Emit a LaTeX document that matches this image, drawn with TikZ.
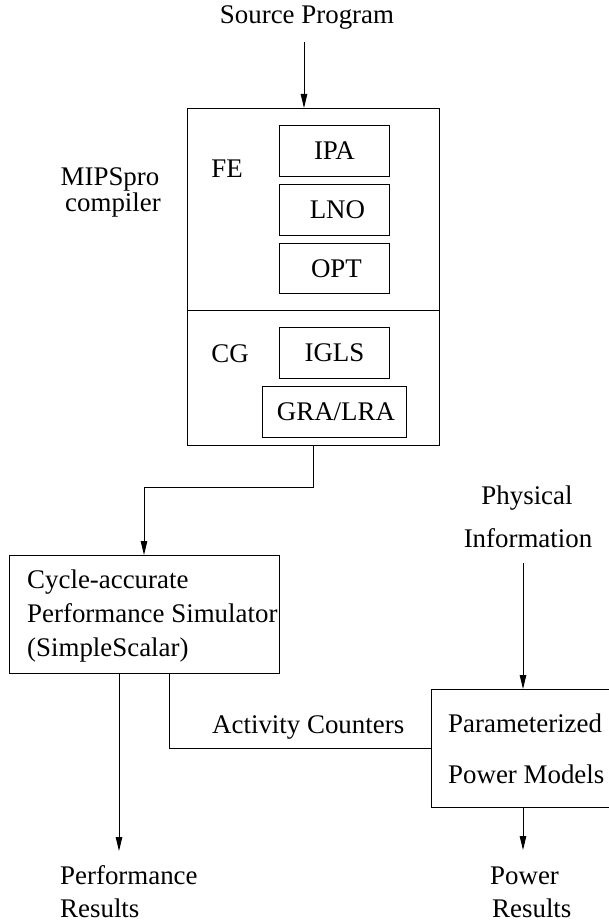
\documentclass[tikz,border=0pt]{standalone}
\usepackage{fontspec}
\setmainfont{Liberation Serif}
\usetikzlibrary{arrows.meta}
\begin{document}
\begin{tikzpicture}[x=1pt,y=-1pt,
  txt/.style={inner sep=0pt, font=\fontsize{26.9}{30}\selectfont},
  boxn/.style={draw, line width=0.9pt, inner sep=0pt, anchor=north west, font=\fontsize{26.9}{30}\selectfont},
  arr/.style={-{Triangle[length=14pt,width=6.5pt]}, line width=0.9pt},
  ln/.style={line width=0.9pt}]
\useasboundingbox (0,0) rectangle (609,923);
% boxes
\node[boxn, minimum width=252pt, minimum height=337pt] (big) at (187,108) {};
\node[boxn, minimum width=110pt, minimum height=51pt] (ipa) at (279,125) {IPA};
\node[boxn, minimum width=110pt, minimum height=51pt] (lno) at (279,184) {\hspace*{6pt}LNO};
\node[boxn, minimum width=110pt, minimum height=50pt] (opt) at (279,243) {\hspace*{4pt}OPT};
\node[boxn, minimum width=110pt, minimum height=51pt] (igls) at (279,327) {IGLS};
\node[boxn, minimum width=144pt, minimum height=51pt] (gra) at (262,386) {\hspace*{3pt}GRA/LRA};
\coordinate (dv) at (0,310);
\draw[ln] (big.west |- dv) -- (big.east |- dv);
\node[boxn, minimum width=270pt, minimum height=118pt] (cyc) at (9,555) {};
\node[boxn, minimum width=190pt, minimum height=118pt] (pow) at (431,689) {};
% texts
\node[txt, anchor=base] (src) at (307,24) {Source Program};
\node[txt, anchor=base] (fe) at (227,177) {FE};
\node[txt, anchor=base] (cg) at (230,362) {CG};
\node[txt, anchor=base] (mips1) at (110,185) {MIPSpro};
\node[txt, anchor=base] (mips2) at (113,211) {compiler};
\node[txt, anchor=base west] (c1) at (27,588) {Cycle-accurate};
\node[txt, anchor=base west] (c2) at (27,622) {Performance Simulator};
\node[txt, anchor=base west] (c3) at (27,656) {(SimpleScalar)};
\node[txt, anchor=base] (phy1) at (527,504) {Physical};
\node[txt, anchor=base] (phy2) at (528,547) {Information};
\node[txt, anchor=base west] (act) at (212,733) {Activity Counters};
\node[txt, anchor=base west] (pm1) at (448,732) {Parameterized};
\node[txt, anchor=base west] (pm2) at (448,783) {Power Models};
\node[txt, anchor=base west] (pr1) at (60,884) {Performance};
\node[txt, anchor=base west] (pr2) at (60,917) {Results};
\node[txt, anchor=base west] (po1) at (490,884) {Power};
\node[txt, anchor=base west] (po2) at (492,917) {Results};
% connectors
\coordinate (s1) at (304,42);
\draw[arr] (s1) -- (s1 |- big.north);
\coordinate (k1) at (144,487);
\draw[arr] (big.south) -- (big.south |- k1) -- (k1) -- (k1 |- cyc.north);
\coordinate (p1) at (119,851);
\draw[arr] (p1 |- cyc.south) -- (p1);
\coordinate (q1) at (169,748);
\draw[ln] (q1 |- cyc.south) -- (q1) -- (q1 -| pow.west);
\coordinate (h1) at (523,563);
\draw[arr] (h1) -- (h1 |- pow.north);
\coordinate (h2) at (523,850);
\draw[arr] (h2 |- pow.south) -- (h2);
\end{tikzpicture}
\end{document}
